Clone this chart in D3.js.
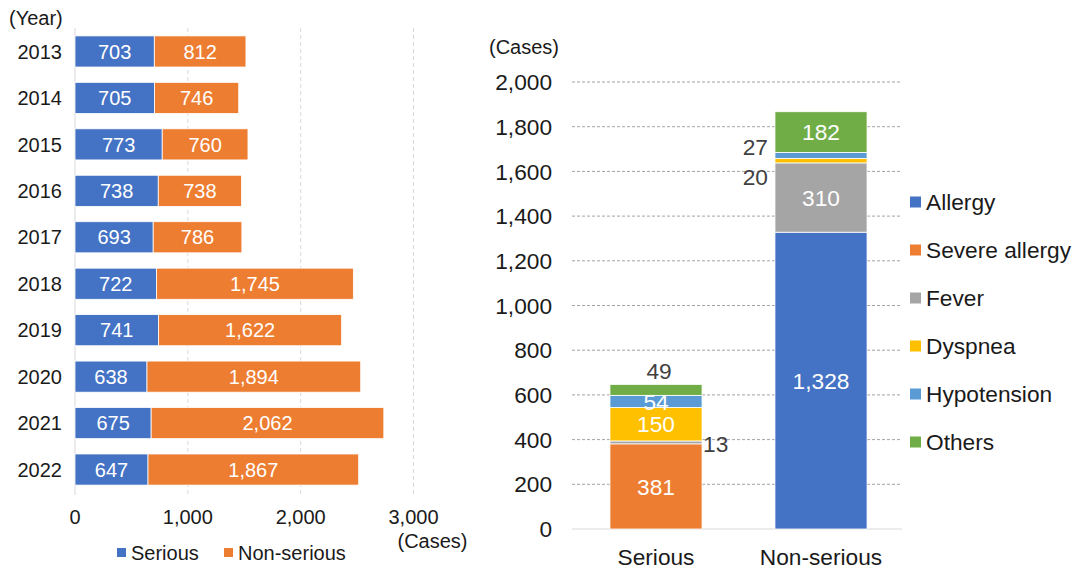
<!DOCTYPE html>
<html><head><meta charset="utf-8">
<script src="https://cdn.jsdelivr.net/npm/d3@7"></script>
<style>
html,body{margin:0;padding:0;background:#fff;}
svg{display:block;font-family:"Liberation Sans",Arial,sans-serif;}
</style></head>
<body><svg id="c" width="1080" height="569"></svg>
<script>
// ---- Data ----
const years = ["2013","2014","2015","2016","2017","2018","2019","2020","2021","2022"];
const seriousByYear = [703,705,773,738,693,722,741,638,675,647];
const nonSeriousByYear = [812,746,760,738,786,1745,1622,1894,2062,1867];
const leftTicks = [0,1000,2000,3000];

const categories = ["Serious","Non-serious"];
const symptoms = ["Allergy","Severe allergy","Fever","Dyspnea","Hypotension","Others"];
const allergy = [0,1328];
const severeAllergy = [381,0];
const fever = [13,310];
const dyspnea = [150,20];
const hypotension = [54,27];
const others = [49,182];
const rightTicks = [0,200,400,600,800,1000,1200,1400,1600,1800,2000];

// ---- Styles ----
const colors = {"Allergy":"#4472C4","Severe allergy":"#ED7D31","Fever":"#A5A5A5","Dyspnea":"#FFC000","Hypotension":"#5B9BD5","Others":"#70AD47"};
const cSerious = "#4472C4", cNon = "#ED7D31";
const textCol = "#1a1a1a", outCol = "#404040";
const fmt = d3.format(",");
const fsL = 20, fsR = 22.7;

const svg = d3.select("#c");

// ================= Left chart =================
const xL = d3.scaleLinear().domain([0,3000]).range([75,413.5]);
const yL = d3.scaleBand().domain(years).range([28,493]).paddingInner(0.33).paddingOuter(0.17);
const gL = svg.append("g");

gL.selectAll("line.grid").data(leftTicks.slice(1)).join("line")
  .attr("x1",d=>xL(d)).attr("x2",d=>xL(d)).attr("y1",28).attr("y2",495)
  .attr("stroke","#d9d9d9").attr("stroke-dasharray","4,3").attr("stroke-width",1);
gL.append("line").attr("x1",xL(0)).attr("x2",xL(0)).attr("y1",28).attr("y2",495)
  .attr("stroke","#d9d9d9").attr("stroke-width",1);

const leftRows = years.map((y,i)=>({year:y,s:seriousByYear[i],n:nonSeriousByYear[i]}));
const rowG = gL.selectAll("g.row").data(leftRows).join("g");
rowG.append("rect").attr("x",xL(0)).attr("y",d=>yL(d.year)).attr("width",d=>xL(d.s)-xL(0))
  .attr("height",yL.bandwidth()).attr("fill",cSerious).attr("stroke","#fff").attr("stroke-width",0.8);
rowG.append("rect").attr("x",d=>xL(d.s)).attr("y",d=>yL(d.year)).attr("width",d=>xL(d.s+d.n)-xL(d.s))
  .attr("height",yL.bandwidth()).attr("fill",cNon).attr("stroke","#fff").attr("stroke-width",0.8);
rowG.append("text").attr("x",d=>(xL(0)+xL(d.s))/2).attr("y",d=>yL(d.year)+yL.bandwidth()/2)
  .attr("dy","0.36em").attr("text-anchor","middle").attr("fill","#fff").attr("font-size",fsL).text(d=>fmt(d.s));
rowG.append("text").attr("x",d=>(xL(d.s)+xL(d.s+d.n))/2).attr("y",d=>yL(d.year)+yL.bandwidth()/2)
  .attr("dy","0.36em").attr("text-anchor","middle").attr("fill","#fff").attr("font-size",fsL).text(d=>fmt(d.n));
rowG.append("text").attr("x",62).attr("y",d=>yL(d.year)+yL.bandwidth()/2).attr("dy","0.36em")
  .attr("text-anchor","end").attr("fill",textCol).attr("font-size",fsL).text(d=>d.year);

gL.append("text").attr("x",9).attr("y",25).attr("fill",textCol).attr("font-size",fsL).text("(Year)");
gL.selectAll("text.xt").data(leftTicks).join("text").attr("class","xt")
  .attr("x",d=>xL(d)).attr("y",524).attr("text-anchor","middle").attr("fill",textCol).attr("font-size",fsL).text(d=>fmt(d));
gL.append("text").attr("x",xL(3000)+19).attr("y",548).attr("text-anchor","middle").attr("fill",textCol).attr("font-size",fsL).text("(Cases)");

const legL = [{k:"Serious",c:cSerious,x:117},{k:"Non-serious",c:cNon,x:224}];
const lgL = gL.selectAll("g.lg").data(legL).join("g");
lgL.append("rect").attr("x",d=>d.x).attr("y",548).attr("width",9).attr("height",9).attr("fill",d=>d.c);
lgL.append("text").attr("x",d=>d.x+14).attr("y",560).attr("fill",textCol).attr("font-size",fsL).text(d=>d.k);

// ================= Right chart =================
const yR = d3.scaleLinear().domain([0,2000]).range([529,82]);
const xR = d3.scaleBand().domain(categories).range([573.5,903.5]).paddingInner(0.442).paddingOuter(0.221);
const gR = svg.append("g");

gR.selectAll("line.grid").data(rightTicks.slice(1)).join("line")
  .attr("x1",572).attr("x2",902).attr("y1",d=>yR(d)).attr("y2",d=>yR(d))
  .attr("stroke","#8c8c8c").attr("stroke-dasharray","3,2").attr("stroke-width",0.8);
gR.append("line").attr("x1",572).attr("x2",902).attr("y1",yR(0)).attr("y2",yR(0))
  .attr("stroke","#d9d9d9").attr("stroke-width",1);
gR.selectAll("text.yt").data(rightTicks).join("text").attr("class","yt")
  .attr("x",552).attr("y",d=>yR(d)).attr("dy","0.36em").attr("text-anchor","end")
  .attr("fill",textCol).attr("font-size",fsR).text(d=>fmt(d));
gR.append("text").attr("x",489).attr("y",54).attr("fill",textCol).attr("font-size",fsL).text("(Cases)");

const seriesVals = [allergy,severeAllergy,fever,dyspnea,hypotension,others];
const table = categories.map((c,i)=>{const o={cat:c}; symptoms.forEach((s,j)=>o[s]=seriesVals[j][i]); return o;});
const stacked = d3.stack().keys(symptoms)(table);

// label placement rules (style): inside white unless listed
const outside = {"Serious|Others":"above","Serious|Fever":"right","Non-serious|Hypotension":"leftUp","Non-serious|Dyspnea":"leftDown"};

stacked.forEach(layer=>{
  const key = layer.key;
  layer.forEach(seg=>{
    const cat = seg.data.cat, v = seg[1]-seg[0];
    if(v<=0) return;
    gR.append("rect").attr("x",xR(cat)).attr("y",yR(seg[1])).attr("width",xR.bandwidth()).attr("height",yR(seg[0])-yR(seg[1]))
      .attr("fill",colors[key]).attr("stroke","#fff").attr("stroke-width",0.8);
  });
});
stacked.forEach(layer=>{
  const key = layer.key;
  layer.forEach(seg=>{
    const cat = seg.data.cat, v = seg[1]-seg[0];
    if(v<=0) return;
    const x0 = xR(cat), bw = xR.bandwidth();
    const mode = outside[cat+"|"+key];
    let x = x0+bw/2, y = (yR(seg[0])+yR(seg[1]))/2, anchor="middle", fill="#fff";
    if(mode==="above"){ y = yR(seg[1])-14; fill=outCol; x = x0+bw/2+3; }
    else if(mode==="right"){ x = x0+bw+1; anchor="start"; fill=outCol; y = y+1.5; }
    else if(mode==="leftUp"){ x = x0-7; anchor="end"; fill=outCol; y = yR(seg[1])-6; }
    else if(mode==="leftDown"){ x = x0-7; anchor="end"; fill=outCol; y = yR(seg[0])+13.5; }
    gR.append("text").attr("x",x).attr("y",y).attr("dy","0.36em").attr("text-anchor",anchor)
      .attr("fill",fill).attr("font-size",fsR).text(fmt(v));
  });
});

gR.selectAll("text.xc").data(categories).join("text").attr("class","xc")
  .attr("x",d=>xR(d)+xR.bandwidth()/2).attr("y",565).attr("text-anchor","middle")
  .attr("fill",textCol).attr("font-size",fsR).text(d=>d);

const lgR = gR.selectAll("g.lg").data(symptoms).join("g").attr("transform",(d,i)=>`translate(910,${202+i*48})`);
lgR.append("rect").attr("x",0).attr("y",-5.5).attr("width",11).attr("height",11).attr("fill",d=>colors[d]);
lgR.append("text").attr("x",16).attr("y",0).attr("dy","0.36em").attr("fill",textCol).attr("font-size",fsR).text(d=>d);
</script></body></html>
